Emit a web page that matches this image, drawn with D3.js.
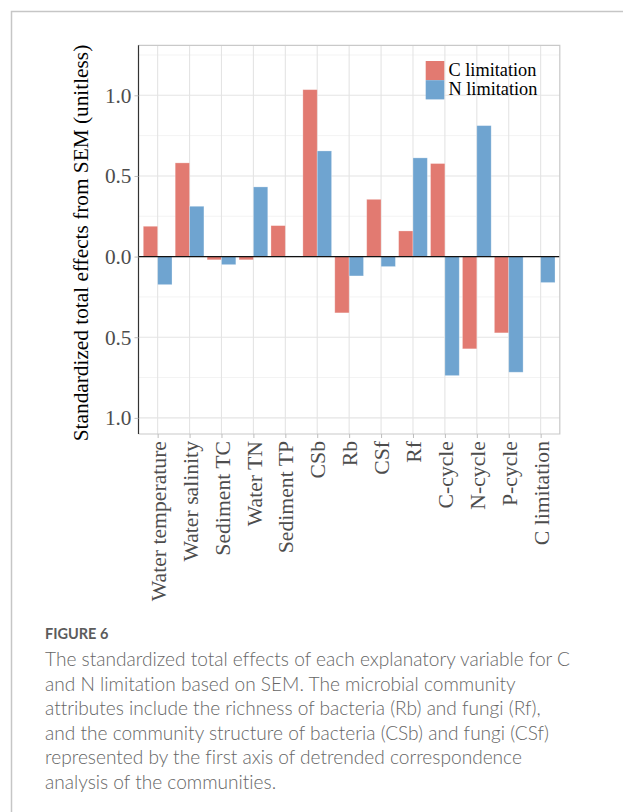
<!DOCTYPE html>
<html>
<head>
<meta charset="utf-8">
<script src="https://cdn.jsdelivr.net/npm/d3@7/dist/d3.min.js"></script>
<style>
  body { margin: 0; background: #fff; }
  svg { display: block; }
  .caption { font-variant-ligatures: none; }
</style>
</head>
<body>
<svg id="fig" width="623" height="812"></svg>
<script>
// Explanatory variables (x categories)
const categories = [
  "Water temperature", "Water salinity", "Sediment TC", "Water TN", "Sediment TP",
  "CSb", "Rb", "CSf", "Rf", "C-cycle", "N-cycle", "P-cycle", "C limitation"
];
// Standardized total effects for each response
const cLimitation = [0.188, 0.581, -0.02, -0.02, 0.192, 1.035, -0.349, 0.355, 0.159, 0.577, -0.572, -0.473, 0];
const nLimitation = [-0.174, 0.312, -0.05, 0.432, 0.004, 0.655, -0.12, -0.062, 0.612, -0.738, 0.812, -0.717, -0.161];
const seriesNames = ["C limitation", "N limitation"];
// Axis ticks
const yTicks = [-1, -0.5, 0, 0.5, 1];
const yTickLabels = ["1.0", "0.5", "0.0", "0.5", "1.0"];
const yMinorTicks = [-0.75, -0.25, 0.25, 0.75, 1.25];
const yDomain = [-1.1, 1.31];
const captionHead = "FIGURE 6";
const captionLines = [
  "The standardized total effects of each explanatory variable for C",
  "and N limitation based on SEM. The microbial community",
  "attributes include the richness of bacteria (Rb) and fungi (Rf),",
  "and the community structure of bacteria (CSb) and fungi (CSf)",
  "represented by the first axis of detrended correspondence",
  "analysis of the communities."
];

const colors = { "C limitation": "#e27a71", "N limitation": "#6fa4d0" };
const serif = "'Liberation Serif', 'Times New Roman', serif";
const fs = 21.3;

const svg = d3.select("#fig");

// card frame
svg.append("path")
  .attr("d", "M11.5,812 V11.5 H623")
  .attr("fill", "none").attr("stroke", "#c6c6c6").attr("stroke-width", 1.5);

const panel = { left: 138.5, right: 559.8, top: 45.3, bottom: 434 };

const x = d3.scalePoint().domain(categories).range([panel.left, panel.right]).padding(0.6);
const step = x.step();
const y = d3.scaleLinear().domain(yDomain).range([panel.bottom, panel.top]);

const g = svg.append("g");

// gridlines
g.selectAll("line.minor").data(yMinorTicks).join("line")
  .attr("x1", panel.left).attr("x2", panel.right)
  .attr("y1", d => y(d)).attr("y2", d => y(d))
  .attr("stroke", "#f3f3f3").attr("stroke-width", 1);
g.selectAll("line.major").data(yTicks).join("line")
  .attr("x1", panel.left).attr("x2", panel.right)
  .attr("y1", d => y(d)).attr("y2", d => y(d))
  .attr("stroke", "#e4e4e4").attr("stroke-width", 1.1);
g.selectAll("line.vgrid").data(categories).join("line")
  .attr("x1", d => x(d)).attr("x2", d => x(d))
  .attr("y1", panel.top).attr("y2", panel.bottom)
  .attr("stroke", "#e4e4e4").attr("stroke-width", 1.1);

// bars
const barW = step * 0.45;
const rows = categories.map((c, i) => ({ c, values: [cLimitation[i], nLimitation[i]] }));
rows.forEach(r => {
  r.values.forEach((v, k) => {
    const name = seriesNames[k];
    g.append("rect")
      .attr("x", x(r.c) - barW + k * barW)
      .attr("width", barW)
      .attr("y", Math.min(y(v), y(0)))
      .attr("height", Math.abs(y(v) - y(0)))
      .attr("fill", colors[name])
      .attr("stroke", "#ffffff").attr("stroke-opacity", 0.35).attr("stroke-width", 0.8);
  });
});

// zero line
g.append("line")
  .attr("x1", panel.left).attr("x2", panel.right)
  .attr("y1", y(0)).attr("y2", y(0))
  .attr("stroke", "#111").attr("stroke-width", 1.4);

// panel border (top, right, bottom) and left axis line
g.append("path")
  .attr("d", `M${panel.left},${panel.top} H${panel.right} V${panel.bottom} H${panel.left}`)
  .attr("fill", "none").attr("stroke", "#c9c9c9").attr("stroke-width", 1.2);
g.append("line")
  .attr("x1", panel.left).attr("x2", panel.left)
  .attr("y1", panel.top).attr("y2", panel.bottom)
  .attr("stroke", "#333").attr("stroke-width", 1.2);

// y axis
const yAxis = d3.axisLeft(y).tickValues(yTicks)
  .tickFormat((d, i) => yTickLabels[i]).tickSize(4).tickPadding(3);
const ya = svg.append("g").attr("transform", `translate(${panel.left},0)`).call(yAxis);
ya.select(".domain").remove();
ya.selectAll(".tick line").attr("stroke", "#bdbdbd");
ya.selectAll(".tick text").attr("font-family", serif).attr("font-size", fs).attr("fill", "#4d4d4d");

// x axis
const xAxis = d3.axisBottom(x).tickSize(4).tickPadding(3);
const xa = svg.append("g").attr("transform", `translate(0,${panel.bottom})`).call(xAxis);
xa.select(".domain").remove();
xa.selectAll(".tick line").attr("stroke", "#bdbdbd");
xa.selectAll(".tick text")
  .attr("font-family", serif).attr("font-size", fs + 0.4).attr("fill", "#4d4d4d")
  .attr("text-anchor", "end")
  .attr("transform", "rotate(-90)")
  .attr("x", -7).attr("y", 0).attr("dy", "0.35em");

// y title
svg.append("text")
  .attr("transform", "translate(88,243) rotate(-90)")
  .attr("text-anchor", "middle")
  .attr("font-family", serif).attr("font-size", fs).attr("fill", "#000")
  .text("Standardized total effects from SEM (unitless)");

// legend
const leg = svg.append("g").attr("transform", "translate(425.7,61)");
seriesNames.forEach((n, i) => {
  leg.append("rect").attr("x", 0).attr("y", i * 19.2).attr("width", 18.6).attr("height", 19.2)
    .attr("fill", colors[n]);
  leg.append("text").attr("x", 22.8).attr("y", i * 19.2 + 15)
    .attr("font-family", serif).attr("font-size", 18.3).attr("fill", "#000").text(n);
});

// caption
const sans = "Lato, 'Open Sans', sans-serif";
svg.append("text").attr("x", 45).attr("y", 638.5)
  .attr("font-family", sans).attr("font-size", 14.5)
  .attr("font-weight", 700).attr("fill", "#5c5c5c").text(captionHead);
svg.append("g").attr("class", "caption").selectAll("text").data(captionLines).join("text")
  .attr("x", 45).attr("y", (d, i) => 666 + i * 24.5)
  .attr("font-family", sans).attr("font-size", 19.1).attr("font-weight", 300)
  .attr("fill", "#666666").text(d => d);
</script>
</body>
</html>
